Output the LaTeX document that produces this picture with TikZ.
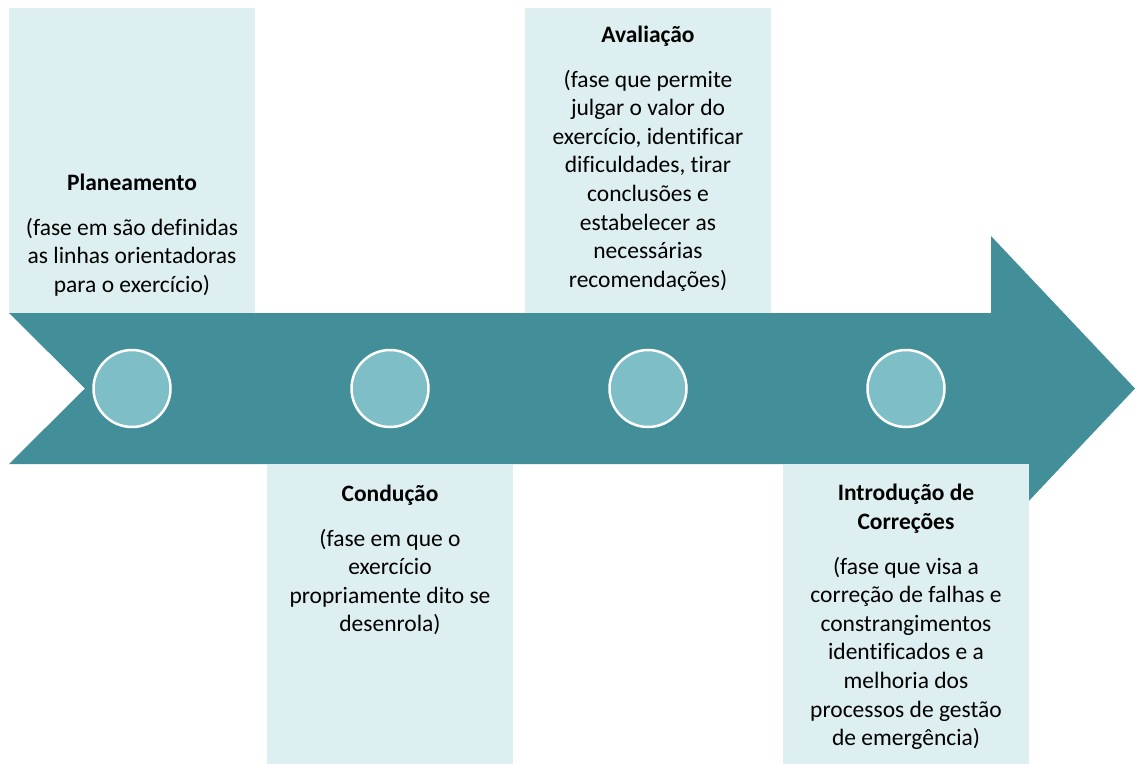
\documentclass[tikz,border=0pt]{standalone}
\usepackage{fontspec}
\setmainfont{Carlito}[Ligatures=NoCommon]
\definecolor{tealdark}{RGB}{67,143,153}
\definecolor{tealcirc}{RGB}{126,190,199}
\definecolor{boxfill}{RGB}{222,239,242}
\newcommand{\phasetext}[2]{\begin{minipage}[t]{240pt}\centering\fontsize{23.5pt}{28.6pt}\selectfont\textbf{#1}\par\vspace{16.4pt}#2\end{minipage}}
\tikzset{
  phasebox/.style={rectangle, fill=boxfill, draw=none, inner sep=0pt, minimum width=246pt},
  phasedot/.style={circle, fill=tealcirc, draw=white, line width=2.5pt, minimum size=77pt, inner sep=0pt},
  phaselabel/.style={inner sep=0pt, anchor=base},
  band/.style={fill=tealdark, draw=none}
}
\begin{document}
\begin{tikzpicture}[x=1pt,y=-1pt]
\useasboundingbox (0,0) rectangle (1135,764);
% arrow band
\coordinate (a1) at (9,313);
\coordinate (a2) at (991,313);
\coordinate (a3) at (991,236);
\coordinate (a4) at (1135,388.5);
\coordinate (a5) at (991,541);
\coordinate (a6) at (991,464);
\coordinate (a7) at (9,464);
\coordinate (a8) at (85,388.5);
\fill[band] (a1) -- (a2) -- (a3) -- (a4) -- (a5) -- (a6) -- (a7) -- (a8) -- cycle;
% boxes
\node[phasebox, minimum height=305pt] (b1) at (132,160.5) {};
\node[phasebox, minimum height=305pt] (b3) at (648,160.5) {};
\node[phasebox, minimum height=300pt] (b2) at (390,614) {};
\node[phasebox, minimum height=300pt] (b4) at (906,614) {};
% circles
\node[phasedot] (c1) at (132,388.5) {};
\node[phasedot] (c2) at (390,388.5) {};
\node[phasedot] (c3) at (648,388.5) {};
\node[phasedot] (c4) at (906,388.5) {};
% texts
\node[phaselabel] (t1) at (132,190) {\phasetext{Planeamento}{(fase em são definidas\\as linhas orientadoras\\para o exercício)}};
\node[phaselabel] (t3) at (648,42) {\phasetext{Avaliação}{(fase que permite\\julgar o valor do\\exercício, identificar\\dificuldades, tirar\\conclusões e\\estabelecer as\\necessárias\\recomendações)}};
\node[phaselabel] (t2) at (390,501) {\phasetext{Condução}{(fase em que o\\exercício\\propriamente dito se\\desenrola)}};
\node[phaselabel] (t4) at (906,500.5) {\phasetext{Introdução de\\Correções}{(fase que visa a\\correção de falhas e\\constrangimentos\\identificados e a\\melhoria dos\\processos de gestão\\de emergência)}};
\end{tikzpicture}
\end{document}
